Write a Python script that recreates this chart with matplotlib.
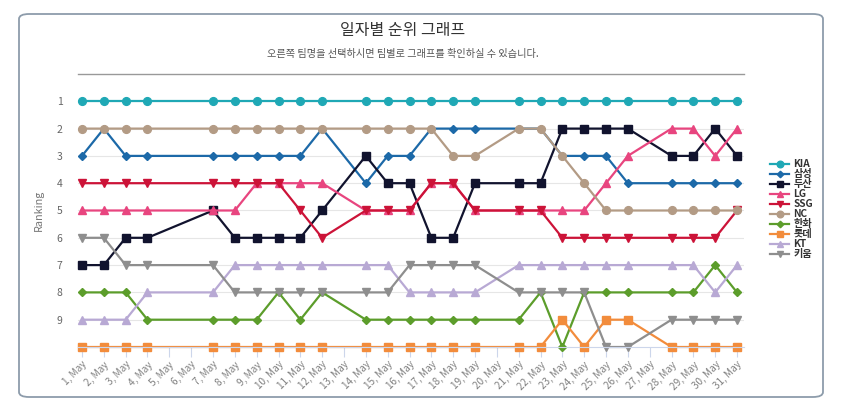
import matplotlib
matplotlib.use("Agg")
import matplotlib.pyplot as plt
from matplotlib.patches import FancyBboxPatch

plt.rcParams['font.family'] = ['Noto Sans CJK KR', 'DejaVu Sans']

days = [1, 2, 3, 4, 7, 8, 9, 10, 11, 12, 14, 15, 16, 17, 18, 19, 21, 22, 23, 24, 25, 26, 28, 29, 30, 31]
all_days = list(range(1, 32))
tick_labels = [f"{d}, May" for d in all_days]

teams = ["KIA", "삼성", "두산", "LG", "SSG", "NC", "한화", "롯데", "KT", "키움"]

kia     = [1, 1, 1, 1, 1, 1, 1, 1, 1, 1, 1, 1, 1, 1, 1, 1, 1, 1, 1, 1, 1, 1, 1, 1, 1, 1]
samsung = [3, 2, 3, 3, 3, 3, 3, 3, 3, 2, 4, 3, 3, 2, 2, 2, 2, 2, 3, 3, 3, 4, 4, 4, 4, 4]
doosan  = [7, 7, 6, 6, 5, 6, 6, 6, 6, 5, 3, 4, 4, 6, 6, 4, 4, 4, 2, 2, 2, 2, 3, 3, 2, 3]
lg      = [5, 5, 5, 5, 5, 5, 4, 4, 4, 4, 5, 5, 5, 4, 4, 5, 5, 5, 5, 5, 4, 3, 2, 2, 3, 2]
ssg     = [4, 4, 4, 4, 4, 4, 4, 4, 5, 6, 5, 5, 5, 4, 4, 5, 5, 5, 6, 6, 6, 6, 6, 6, 6, 5]
nc      = [2, 2, 2, 2, 2, 2, 2, 2, 2, 2, 2, 2, 2, 2, 3, 3, 2, 2, 3, 4, 5, 5, 5, 5, 5, 5]
hanwha  = [8, 8, 8, 9, 9, 9, 9, 8, 9, 8, 9, 9, 9, 9, 9, 9, 9, 8, 10, 8, 8, 8, 8, 8, 7, 8]
lotte   = [10, 10, 10, 10, 10, 10, 10, 10, 10, 10, 10, 10, 10, 10, 10, 10, 10, 10, 9, 10, 9, 9, 10, 10, 10, 10]
kt      = [9, 9, 9, 8, 8, 7, 7, 7, 7, 7, 7, 7, 8, 8, 8, 8, 7, 7, 7, 7, 7, 7, 7, 7, 8, 7]
kiwoom  = [6, 6, 7, 7, 7, 8, 8, 8, 8, 8, 8, 8, 7, 7, 7, 7, 8, 8, 8, 8, 10, 10, 9, 9, 9, 9]

series = [kia, samsung, doosan, lg, ssg, nc, hanwha, lotte, kt, kiwoom]
colors = ["#1fa8b5", "#1c69a8", "#11132e", "#e8457f", "#cc1338",
          "#b39b85", "#5c9d2b", "#f28c3c", "#b8a9d4", "#8e8e8e"]
markers = ["o", "D", "s", "^", "v", "o", "D", "s", "^", "v"]
msizes = [5.6, 3.9, 5.6, 5.8, 5.8, 5.6, 3.9, 5.6, 5.8, 5.8]

W, H = 850, 412
fig = plt.figure(figsize=(W / 100, H / 100), dpi=100)

box = FancyBboxPatch((19 / W, 15 / H), (823 - 19) / W, (398 - 15) / H,
                     boxstyle="round,pad=0,rounding_size=0.012",
                     transform=fig.transFigure, fill=False,
                     edgecolor="#8d9cab", linewidth=1.3)
fig.patches.append(box)

fig.text(403 / W, 1 - 31 / H, "일자별 순위 그래프", ha="center", va="center",
         fontsize=11.5, color="#333333")
fig.text(403 / W, 1 - 54 / H, "오른쪽 팀명을 선택하시면 팀별로 그래프를 확인하실 수 있습니다.",
         ha="center", va="center", fontsize=7.3, color="#555555")

ax = fig.add_axes([78 / W, 1 - 347 / H, (744 - 78) / W, (347 - 74) / H])

for name, vals, c, m, ms in zip(teams, series, colors, markers, msizes):
    ax.plot(days, vals, color=c, marker=m, markersize=ms, linewidth=1.6,
            label=name, clip_on=False)

ax.set_xlim(0.817, 31.32)
ax.set_ylim(10, 0)
ax.set_yticks([1, 2, 3, 4, 5, 6, 7, 8, 9])
ax.set_yticklabels([str(i) for i in range(1, 10)])
ax.set_xticks(all_days)
ax.set_xticklabels(tick_labels, rotation=45, ha="right", rotation_mode="anchor")

ax.grid(axis="y", color="#e6e6e6", linewidth=0.8)
ax.set_axisbelow(True)
for s in ["left", "right"]:
    ax.spines[s].set_visible(False)
ax.spines["top"].set_color("#999999")
ax.spines["top"].set_linewidth(1.0)
ax.spines["bottom"].set_color("#ccd6eb")
ax.spines["bottom"].set_linewidth(0.8)

ax.tick_params(axis="y", length=0, pad=11, labelsize=7.5, labelcolor="#666666")
ax.tick_params(axis="x", length=7, width=0.8, color="#ccd6eb", pad=2,
               labelsize=7.2, labelcolor="#808080")

ax.set_ylabel("Ranking", fontsize=7.8, color="#777777", labelpad=9)

leg = fig.legend(loc="upper left", bbox_to_anchor=(765 / W, 1 - 154 / H),
                 frameon=False, fontsize=7.3, labelspacing=0.0,
                 handlelength=1.9, handletextpad=0.4, borderpad=0,
                 markerscale=0.85)
for t in leg.get_texts():
    t.set_color("#333333")
    t.set_fontweight("bold")

fig.savefig("out.png", dpi=100)
